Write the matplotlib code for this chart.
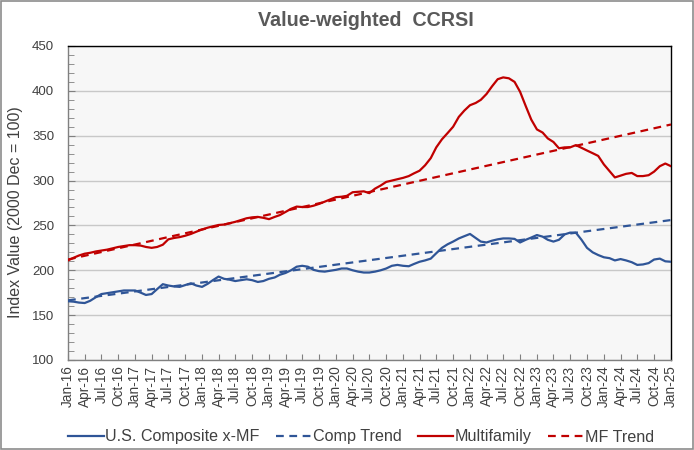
import matplotlib
matplotlib.use("Agg")
import matplotlib.pyplot as plt
from matplotlib.patches import Rectangle
from matplotlib.ticker import MultipleLocator
import pandas as pd

# ---------------- data ----------------
start_month = "2016-01-01"
n_months = 109

composite_xmf = [
    165.5, 165.0, 164.0, 163.5, 166.0, 170.0, 173.5, 174.5, 175.5, 176.5, 177.5, 177.5,
    177.5, 175.0, 172.5, 173.5, 179.0, 184.5, 183.0, 182.0, 181.5, 183.5, 185.5, 183.0,
    181.5, 185.0, 189.0, 193.0, 190.5, 189.5, 188.0, 189.0, 190.0, 189.0, 187.0, 188.0,
    190.5, 192.0, 195.0, 197.0, 200.0, 204.0, 205.0, 204.0, 200.5, 199.0, 198.5, 199.5,
    200.5, 202.0, 202.0, 200.0, 198.5, 197.5, 197.5, 198.5, 200.0, 202.0, 205.0, 206.0,
    205.0, 204.5, 207.0, 209.5, 211.0, 213.0, 219.0, 225.0, 229.0, 232.0, 235.5, 238.0,
    240.5, 236.0, 232.0, 231.0, 233.0, 234.5, 235.5, 235.5, 235.0, 231.0, 234.0, 236.5,
    239.3, 237.5, 234.0, 232.0, 234.0, 240.0, 242.0, 242.0, 234.0, 225.0, 220.0, 217.0,
    214.5, 213.5, 211.0, 212.5, 211.0, 209.0, 206.0, 206.5, 208.0, 212.0, 213.0, 210.0,
    209.5,
]

multifamily = [
    211.0, 214.0, 216.5, 218.5, 219.5, 221.0, 222.0, 223.0, 224.5, 226.0, 227.0, 228.0,
    228.0, 227.5, 226.0, 225.0, 226.0, 228.5, 234.5, 236.0, 237.0, 238.5, 240.5, 243.0,
    245.5, 247.5, 249.0, 250.5, 251.0, 252.5, 254.0, 256.0, 258.0, 259.0, 259.5, 258.5,
    257.0, 259.5, 261.5, 265.0, 268.5, 271.0, 270.5, 270.5, 272.0, 274.0, 276.5, 279.0,
    281.5, 282.0, 283.0, 287.0, 287.5, 288.0, 286.0, 291.0, 294.5, 298.5, 300.0, 301.5,
    303.0, 305.0, 308.0, 311.0, 317.0, 325.0, 337.0, 346.0, 353.0, 360.0, 371.0, 378.0,
    384.0, 386.5, 390.0, 396.5, 405.0, 413.0, 415.0, 414.0, 410.0, 399.0, 383.0, 368.0,
    357.0, 353.5, 347.0, 343.0, 336.0, 337.0, 337.0, 339.5, 336.5, 333.5, 330.5, 327.5,
    318.0, 310.5, 303.5, 305.5, 307.5, 308.5, 305.0, 305.0, 306.0, 310.0, 316.0, 319.0,
    316.0,
]

trend_dates = ["2016-01-01", "2025-01-01"]
comp_trend = [166.5, 256.0]
mf_trend = [212.0, 362.5]

tick_labels = [
    "Jan-16", "Apr-16", "Jul-16", "Oct-16", "Jan-17", "Apr-17", "Jul-17", "Oct-17",
    "Jan-18", "Apr-18", "Jul-18", "Oct-18", "Jan-19", "Apr-19", "Jul-19", "Oct-19",
    "Jan-20", "Apr-20", "Jul-20", "Oct-20", "Jan-21", "Apr-21", "Jul-21", "Oct-21",
    "Jan-22", "Apr-22", "Jul-22", "Oct-22", "Jan-23", "Apr-23", "Jul-23", "Oct-23",
    "Jan-24", "Apr-24", "Jul-24", "Oct-24", "Jan-25",
]

series_names = ["U.S. Composite x-MF", "Comp Trend", "Multifamily", "MF Trend"]

# ---------------- style ----------------
plt.rcParams["font.family"] = ["Liberation Sans", "DejaVu Sans"]
BLUE = "#2F5597"
RED = "#C00000"
TXT = "#404040"

dates = pd.date_range(start_month, periods=n_months, freq="MS")
tdates = pd.to_datetime(trend_dates)
tick_pos = pd.date_range(start_month, periods=len(tick_labels), freq="3MS")

fig = plt.figure(figsize=(6.94, 4.50), dpi=100)
ax = fig.add_axes([68 / 694, 1 - 360 / 450, (671 - 68) / 694, (360 - 46) / 450])
ax.set_facecolor("#F7F7F7")

ax.plot(dates, composite_xmf, color=BLUE, lw=1.6, label=series_names[0], zorder=3)
ax.plot(tdates, comp_trend, color=BLUE, lw=1.6, ls=(0, (3.5, 2.5)), label=series_names[1], zorder=3)
ax.plot(dates, multifamily, color=RED, lw=1.6, label=series_names[2], zorder=3)
ax.plot(tdates, mf_trend, color=RED, lw=1.6, ls=(0, (3.5, 2.5)), label=series_names[3], zorder=3)

ax.set_ylim(100, 450)
ax.set_xlim(dates[0], dates[-1])
ax.yaxis.set_major_locator(MultipleLocator(50))
ax.yaxis.set_minor_locator(MultipleLocator(10))
ax.grid(axis="y", which="major", color="#C8C8C8", lw=1.0, zorder=0)
ax.set_axisbelow(True)

ax.set_xticks(tick_pos)
ax.set_xticklabels(tick_labels, rotation=90, fontsize=9.8, color=TXT)
ax.tick_params(axis="x", which="major", direction="in", length=4, color="#808080", pad=4)
ax.tick_params(axis="y", which="major", direction="in", length=5, color="#808080",
               labelsize=9.5, labelcolor=TXT, pad=10)
ax.tick_params(axis="y", which="minor", direction="in", length=4, color="#808080")

for s in ["left", "bottom"]:
    ax.spines[s].set_color("#808080")
    ax.spines[s].set_linewidth(1.0)
for s in ["top", "right"]:
    ax.spines[s].set_color("#000000")
    ax.spines[s].set_linewidth(1.0)

ax.set_ylabel("Index Value (2000 Dec = 100)", fontsize=11.5, color=TXT)
ax.yaxis.set_label_coords(-0.074, 0.47)

fig.text(365.5 / 694, 1 - 20 / 450, "Value-weighted  CCRSI", ha="center", va="center",
         fontsize=14.2, fontweight="bold", color="#595959")

handles, labels = ax.get_legend_handles_labels()
fig.legend(handles, labels, loc="center", bbox_to_anchor=(361 / 694, 1 - 437 / 450),
           ncol=4, frameon=False, fontsize=11.6, handlelength=2.2, handletextpad=0.1,
           columnspacing=1.0, labelcolor=TXT)

fig.add_artist(Rectangle((0.001, 0.002), 0.997, 0.995, transform=fig.transFigure,
                         fill=False, edgecolor="#8C8C8C", lw=1.2))

fig.savefig("out.png", dpi=100)
